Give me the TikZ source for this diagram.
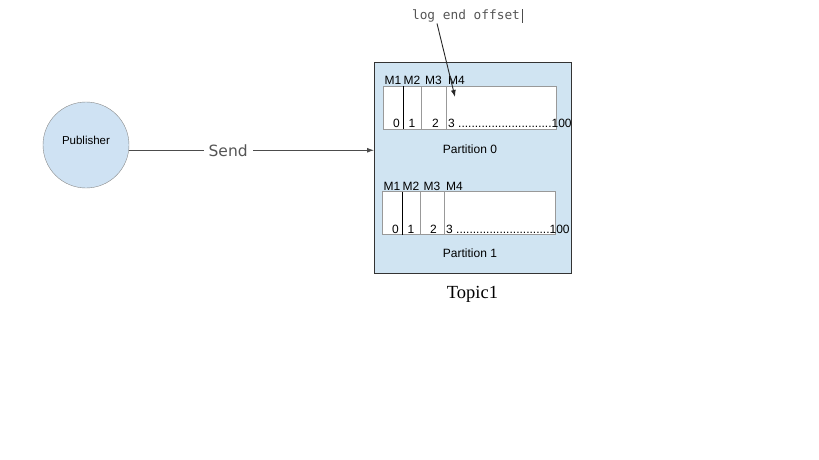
\documentclass[tikz,border=0pt]{standalone}
\usepackage{fontspec}
\setmainfont{Liberation Sans}
\newfontfamily\monofont{DejaVu Sans Mono}
\newfontfamily\sendfont{DejaVu Sans}
\newfontfamily\topicfont{Liberation Serif}
\definecolor{BoxBlue}{HTML}{D0E4F2}
\definecolor{CircBlue}{HTML}{CFE2F3}
\definecolor{EdgeGray}{HTML}{888888}
\definecolor{CellGray}{HTML}{999999}
\definecolor{LabelGray}{HTML}{555555}
\usepackage{tikz}
\usetikzlibrary{arrows.meta,positioning}

\begin{document}
\begin{tikzpicture}[
  x=1pt,y=-1pt,
  every node/.style={font=\fontsize{12}{14}\selectfont,inner sep=1pt},
  topicbox/.style={draw=black!80,line width=1pt,fill=BoxBlue,minimum width=197pt,minimum height=210pt,outer sep=0pt},
  cell/.style={draw=CellGray,line width=1pt,fill=white,minimum height=43pt,outer sep=0pt,inner sep=0pt},
  arr/.style={-{Latex[length=7pt,width=5pt]},line width=0.9pt,color=black!85}
]
\useasboundingbox (0,0) rectangle (819,460);
\node[circle,draw=EdgeGray,fill=CircBlue,minimum size=86pt] (pub) at (86,145) {};
\node[font=\fontsize{11.5}{13}\selectfont] (publbl) at ([yshift=5pt]pub.center) {Publisher};
\node[topicbox] (topic) at (472.5,168) {};
\node[below=12pt of topic,font=\topicfont\fontsize{18.5}{20}\selectfont] (topiclbl) {Topic1};

% partition 0
\node[cell,minimum width=20pt] (p0a) at (393,107.5) {};
\node[cell,minimum width=18pt,right=0pt of p0a] (p0b) {};
\node[cell,minimum width=25pt,right=0pt of p0b] (p0c) {};
\node[cell,minimum width=110pt,right=0pt of p0c] (p0d) {};
\draw[black,line width=1pt] (p0a.north east) -- (p0a.south east);
\node[anchor=south] at (p0a.north) {M1};
\node[anchor=south] at (p0b.north) {M2};
\node[anchor=south] at (p0c.north) {M3};
\node[anchor=south west] at ([xshift=1pt]p0d.north west) {M4};
\node[anchor=south east] at ([xshift=-2pt]p0a.south east) {0};
\node[anchor=south] at (p0b.south) {1};
\node[anchor=south east] at ([xshift=-6pt]p0c.south east) {2};
\node[anchor=south west] at ([xshift=1pt]p0d.south west) {3 ............................100};
\node (part0) at (470,149) {Partition 0};

% partition 1
\node[cell,minimum width=20pt] (p1a) at (392,213) {};
\node[cell,minimum width=18pt,right=0pt of p1a] (p1b) {};
\node[cell,minimum width=24pt,right=0pt of p1b] (p1c) {};
\node[cell,minimum width=111pt,right=0pt of p1c] (p1d) {};
\draw[black,line width=1pt] (p1a.north east) -- (p1a.south east);
\node[anchor=south] at (p1a.north) {M1};
\node[anchor=south] at (p1b.north) {M2};
\node[anchor=south] at (p1c.north) {M3};
\node[anchor=south west] at ([xshift=1pt]p1d.north west) {M4};
\node[anchor=south east] at ([xshift=-2pt]p1a.south east) {0};
\node[anchor=south] at (p1b.south) {1};
\node[anchor=south east] at ([xshift=-6pt]p1c.south east) {2};
\node[anchor=south west] at ([xshift=1pt]p1d.south west) {3 ............................100};
\node (part1) at (470,253) {Partition 1};

% send
\draw[arr,color=black!70] (pub.-7) -- node[pos=0.405,fill=white,inner xsep=5pt,text=LabelGray,
  font=\sendfont\fontsize{15.5}{17}\selectfont] (send) {Send} (pub.-7 -| topic.west);

% log end offset
\node[text=LabelGray,font=\monofont\fontsize{12.8}{14}\selectfont] (logend) at (466,16) {log end offset};
\draw[black!70,very thin] ([xshift=1pt,yshift=-7pt]logend.east) -- ([xshift=1pt,yshift=7pt]logend.east);
\coordinate (head) at (455,97);
\draw[arr] ([xshift=-29pt]logend.south) -- (head);
\end{tikzpicture}
\end{document}
